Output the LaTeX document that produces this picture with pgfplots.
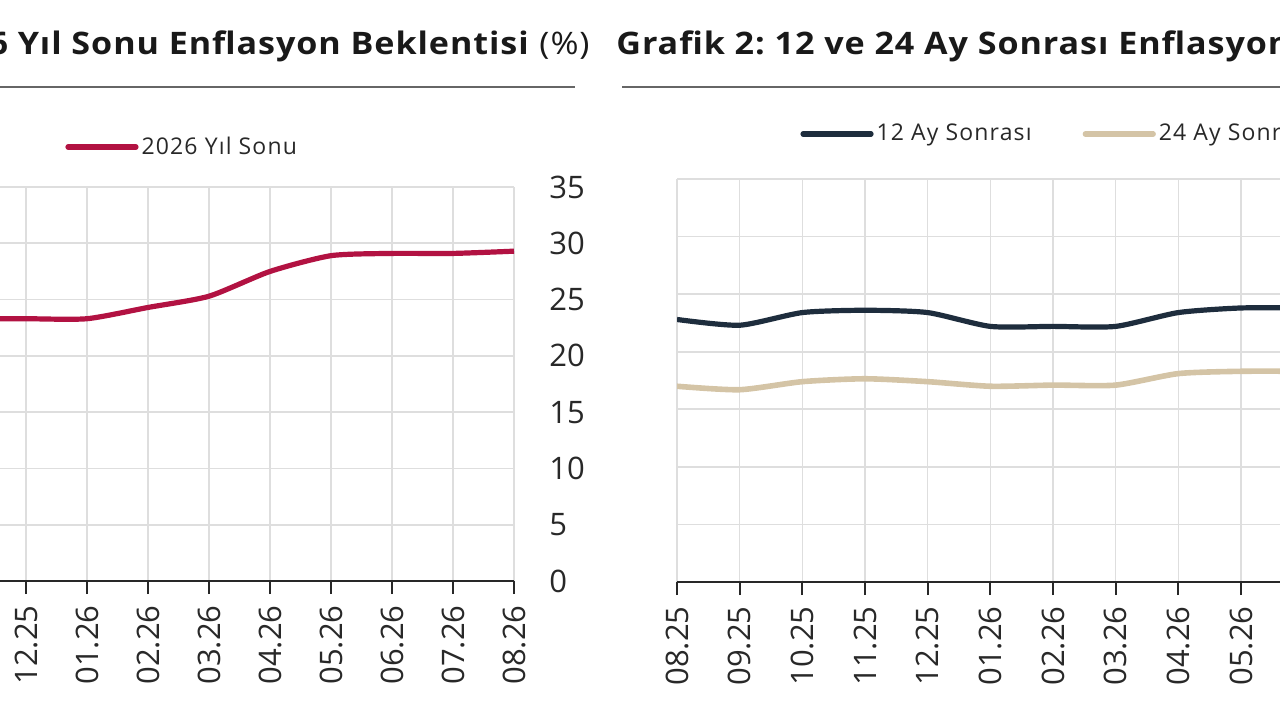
\documentclass[border=0pt]{standalone}
\usepackage{pgfplots}
\pgfplotsset{compat=1.18}
\usepackage{fontspec}
\setmainfont{Open Sans}
\newfontfamily\titlefont[FakeStretch=1.1, LetterSpace=3]{Open Sans}
\newfontfamily\legfont[LetterSpace=5]{Open Sans}
\frenchspacing
\definecolor{crim}{RGB}{178,18,66}
\definecolor{navy}{RGB}{30,45,61}
\definecolor{tan}{RGB}{212,196,166}
\definecolor{gridc}{RGB}{222,222,222}
\definecolor{txt}{RGB}{40,40,40}
\pgfplotsset{
  myaxis/.style={
    scale only axis,
    anchor=south west,
    xmin=0, xmax=12, ymin=0, ymax=35,
    xtick={0,...,12},
    xticklabels={08.25,09.25,10.25,11.25,12.25,01.26,02.26,03.26,04.26,05.26,06.26,07.26,08.26},
    ytick={0,5,...,35},
    grid=major,
    grid style={draw=gridc, line width=0.8pt},
    axis x line*=bottom,
    axis y line*=right,
    y axis line style={draw=none},
    x axis line style={draw=txt, line width=1.1pt},
    ytick style={draw=none},
    xtick style={draw=txt, line width=1.1pt},
    tick align=outside,
    major tick length=6.5pt,
    /pgf/number format/assume math mode=true,
    tick label style={font=\fontsize{15.5}{18}\selectfont, text=txt},
    xticklabel style={rotate=90, anchor=east, inner sep=0pt},
    xticklabel shift=5.5pt,
    yticklabel style={anchor=west, inner sep=0pt},
    yticklabel shift=11pt,
    legend style={draw=none, fill=none, inner sep=0pt, font=\legfont\fontsize{11.5}{13}\selectfont, text=txt,
      nodes={inner sep=1.5pt}},
    legend cell align=left,
    legend image code/.code={\draw[##1, line width=2.6pt, line cap=round] (0pt,0pt) -- (34pt,0pt);},
  }
}
\begin{document}
\begin{tikzpicture}
\useasboundingbox (0pt,0pt) rectangle (640pt,360pt);
\clip (0pt,0pt) rectangle (640pt,360pt);
% titles
\node[anchor=base east, inner sep=0pt, text=black!90] at (295pt,333pt)
  {\titlefont\fontsize{15.5}{18}\selectfont\textbf{Grafik 1: 2026 Yıl Sonu Enflasyon Beklentisi} (\%)};
\node[anchor=base west, inner sep=0pt, text=black!90] at (308pt,333pt)
  {\titlefont\fontsize{15.5}{18}\selectfont\textbf{Grafik 2: 12 ve 24 Ay Sonrası Enflasyon Beklentisi} (\%)};
\draw[line width=1.4pt, draw=black!60] (0pt,316.5pt) -- (287.5pt,316.5pt);
\draw[line width=1.4pt, draw=black!60] (311pt,316.5pt) -- (640pt,316.5pt);

\begin{axis}[myaxis,
  at={(-109pt,69.5pt)}, width=366pt, height=197pt,
  legend style={at={(axis description cs:0.3866,1.1015)}, anchor=west},
]
\addplot[crim, line width=2.6pt, smooth, tension=0.4] coordinates {
(3,23.3) (4,23.3) (5,23.3) (6,24.3) (7,25.3) (8,27.5) (9,28.9) (10,29.1) (11,29.1) (12,29.3)
};
\addlegendentry{2026 Yıl Sonu}
\end{axis}

\begin{axis}[myaxis,
  at={(338.5pt,69pt)}, width=376pt, height=201.5pt,
  legend columns=2,
  legend style={at={(axis description cs:0.1636,1.1117)}, anchor=west,
    /tikz/every odd column/.append style={column sep=0pt},
    /tikz/every even column/.append style={column sep=24pt}},
]
\addplot[navy, line width=2.6pt, smooth, tension=0.4] coordinates {
(0,22.8) (1,22.3) (2,23.4) (3,23.6) (4,23.4) (5,22.2) (6,22.2) (7,22.2) (8,23.4) (9,23.8) (10,23.8)
};
\addlegendentry{12 Ay Sonrası}
\addplot[tan, line width=2.8pt, smooth, tension=0.4] coordinates {
(0,17.0) (1,16.7) (2,17.4) (3,17.65) (4,17.4) (5,17.0) (6,17.1) (7,17.1) (8,18.1) (9,18.3) (10,18.3)
};
\addlegendentry{24 Ay Sonrası}
\end{axis}
\end{tikzpicture}
\end{document}
